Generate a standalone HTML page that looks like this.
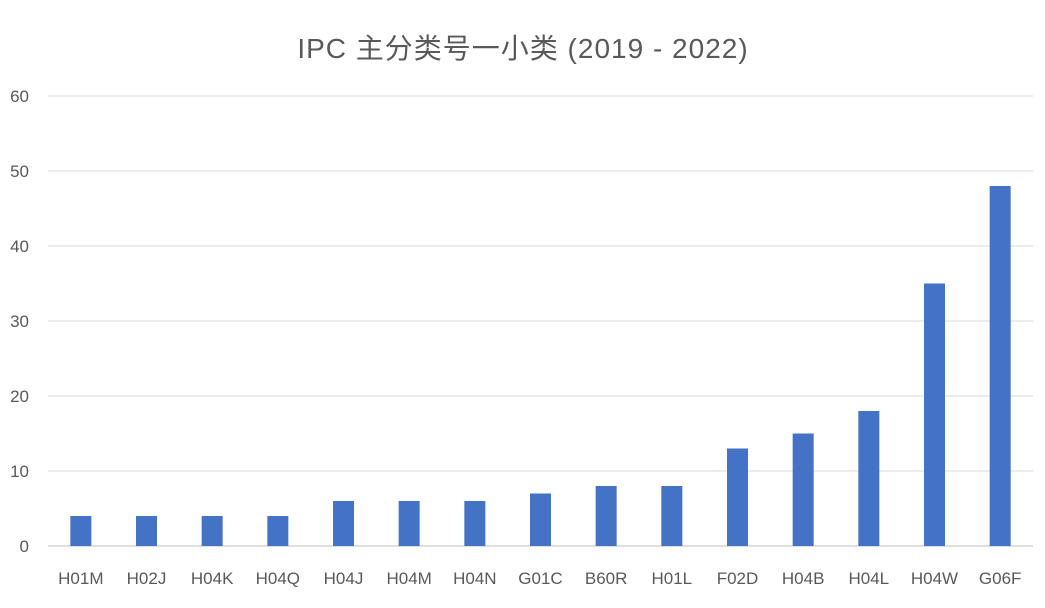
<!DOCTYPE html>
<html><head><meta charset="utf-8"><style>
body{margin:0;background:#fff;}
svg text{font-family:"Liberation Sans","Noto Sans CJK SC",sans-serif;fill:#595959;}
</style></head><body>
<svg id="chart" width="1045" height="603" viewBox="0 0 1045 603" xmlns="http://www.w3.org/2000/svg">
<rect width="1045" height="603" fill="#fff"/>
<text x="523" y="58" text-anchor="middle" font-size="28" letter-spacing="1">IPC 主分类号一小类 (2019 - 2022)</text>
<g id="grid"></g><g id="bars"></g><g id="xlabels"></g>
</svg>
<script>
const categories=["H01M","H02J","H04K","H04Q","H04J","H04M","H04N","G01C","B60R","H01L","F02D","H04B","H04L","H04W","G06F"];
const values=[4,4,4,4,6,6,6,7,8,8,13,15,18,35,48];
const ticks=[0,10,20,30,40,50,60];
const NS="http://www.w3.org/2000/svg";
const left=48,right=1033,y0=546,yTop=96,maxV=60;
const y=v=>y0-(y0-yTop)*v/maxV;
const band=(right-left)/categories.length;
const x=i=>left+band*(i+0.5);
const grid=document.getElementById('grid'),bars=document.getElementById('bars'),xl=document.getElementById('xlabels');
ticks.forEach(t=>{
 const l=document.createElementNS(NS,'line');
 
 
 l.setAttribute('x1',left);l.setAttribute('x2',right);l.setAttribute('y1',y(t));l.setAttribute('y2',y(t));
 l.setAttribute('stroke',t===0?'#bfbfbf':'#d9d9d9');l.setAttribute('stroke-width','1');
 grid.appendChild(l);
 const tx=document.createElementNS(NS,'text');
 
 
 tx.setAttribute('x',29);tx.setAttribute('y',y(t)+6);tx.setAttribute('text-anchor','end');tx.setAttribute('font-size','17');
 tx.textContent=t;grid.appendChild(tx);
});
categories.forEach((c,i)=>{
 const r=document.createElementNS(NS,'rect');
 
 
 r.setAttribute('x',x(i)-10.5);r.setAttribute('width',21);
 r.setAttribute('y',y(values[i]));r.setAttribute('height',y0-y(values[i]));
 r.setAttribute('fill','#4472c4');bars.appendChild(r);
 const t=document.createElementNS(NS,'text');
 
 
 t.setAttribute('x',x(i));t.setAttribute('y',584);t.setAttribute('text-anchor','middle');t.setAttribute('font-size','17');
 t.textContent=c;xl.appendChild(t);
});
</script>
</body></html>
